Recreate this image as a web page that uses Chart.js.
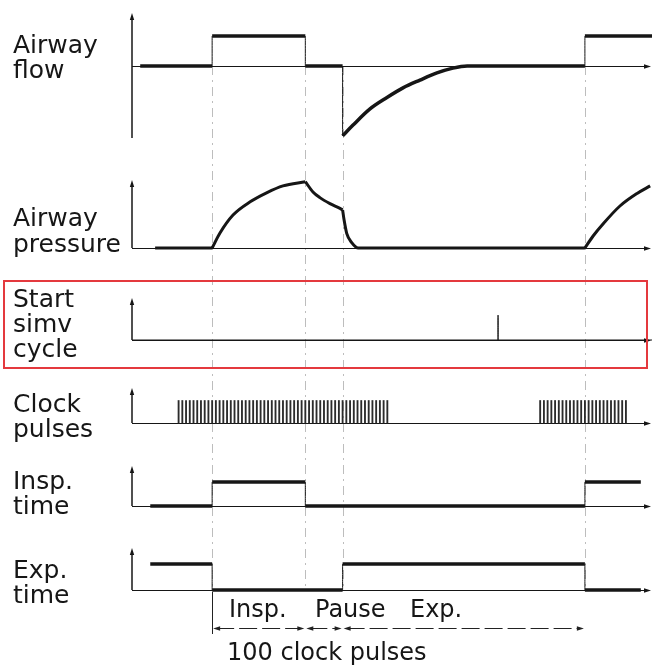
<!DOCTYPE html>
<html>
<head>
<meta charset="utf-8">
<title>Ventilator timing</title>
<script src="https://cdn.jsdelivr.net/npm/chart.js@4.4.1/dist/chart.umd.min.js"></script>
<style>
  html, body { margin: 0; padding: 0; background: #fff; }
  canvas { display: block; }
</style>
</head>
<body>
<canvas id="chart" width="652" height="671"></canvas>
<script>
// time counted in clock pulses, 0 = start of inspiration.
// a repeated time starts a new stroke: a thin vertical edge when the value jumps, a sharp corner otherwise
const phaseNames = ['Insp.', 'Pause', 'Exp.'];
const phaseBounds = [0, 25, 35, 100];

// airway flow: inspiration up, expiration down
const flowT = [-19.3, 0, 0, 25, 25, 35, 35, 37.8, 42.35, 46.9, 51.2, 55.75, 60.3, 64.6, 68.4, 100, 100, 118];
const flowV = [0, 0, 1, 1, 0, 0, -2.33, -1.97, -1.43, -1.05, -0.73, -0.47, -0.23, -0.07, 0, 0, 1, 1];

// airway pressure
const pressT = [-15.3, 0, 0, 2.1, 5.6, 10.2, 14.6, 19, 25, 25, 27.05, 28.9, 31.6, 34.3, 35, 35, 35.4, 36.1, 37.45, 39.2, 100, 100, 102.2, 104.85, 109.4, 114, 117.5];
const pressV = [0, 0, 0, 0.5, 1.1, 1.54, 1.84, 2.07, 2.21, 2.21, 1.87, 1.68, 1.48, 1.32, 1.27, 1.27, 0.93, 0.49, 0.18, 0, 0, 0, 0.4, 0.8, 1.4, 1.82, 2.07];

// start simv cycle trigger
const simvT = [-21.5, 76.7, 76.7, 76.7, 118];
const simvV = [0, 0, 0.83, 0, 0];

// clock pulse bursts (first and last pulse), one pulse per tick
const clockBursts = [[-9, 47], [88, 111]];
const clockHeight = 0.75;

// insp. time / exp. time gates
const inspT = [-16.6, 0, 0, 25, 25, 100, 100, 115];
const inspV = [0, 0, 0.8, 0.8, 0, 0, 0.8, 0.8];
const expT = [-16.6, 0, 0, 35, 35, 100, 100, 115];
const expV = [0.87, 0.87, 0, 0, 0.87, 0.87, 0, 0];

const UNIT = 30; // px per unit on every panel
const ink = '#161616';
const FONT = '"DejaVu Sans", sans-serif';

const panels = [
  { id: 'flow',  lines: ['Airway', 'flow'],         top: 6,   base: 66,  bottom: 162, arrowTop: 1.77, axisEnd: -2.4, textY: 53,  gap: 25 },
  { id: 'press', lines: ['Airway', 'pressure'],     top: 162, base: 248, bottom: 278, arrowTop: 2.27, axisEnd: 0,    textY: 226, gap: 26 },
  { id: 'simv',  lines: ['Start', 'simv', 'cycle'], top: 278, base: 340, bottom: 370, arrowTop: 1.4,  axisEnd: 0,    textY: 307, gap: 25 },
  { id: 'clock', lines: ['Clock', 'pulses'],        top: 370, base: 423, bottom: 452, arrowTop: 1.17, axisEnd: 0,    textY: 412, gap: 25 },
  { id: 'insp',  lines: ['Insp.', 'time'],          top: 452, base: 506, bottom: 536, arrowTop: 1.33, axisEnd: 0,    textY: 489, gap: 25 },
  { id: 'exp',   lines: ['Exp.', 'time'],           top: 536, base: 590, bottom: 600, arrowTop: 1.4,  axisEnd: 0,    textY: 578, gap: 25 }
];

const scales = { x: { type: 'linear', min: -21.5, max: 118, display: false, offset: false } };
panels.forEach((p, i) => {
  scales[p.id] = {
    type: 'linear', position: 'left', stack: 'panels',
    stackWeight: p.bottom - p.top, weight: panels.length - i,
    min: (p.base - p.bottom) / UNIT, max: (p.base - p.top) / UNIT,
    ticks: { display: false },
    grid: { display: false, drawTicks: false },
    border: { display: false }
  };
});

function stroke(points, axis, width) {
  return {
    type: 'line', yAxisID: axis, data: points,
    borderColor: ink, borderWidth: width, pointRadius: 0,
    cubicInterpolationMode: 'monotone', fill: false
  };
}

// split a trace into thick runs and thin vertical edges
function strokes(ts, vs, axis, width) {
  const out = [];
  let run = [{ x: ts[0], y: vs[0] }];
  for (let i = 1; i < ts.length; i++) {
    const pt = { x: ts[i], y: vs[i] };
    if (ts[i] === ts[i - 1]) {
      const prev = run[run.length - 1];
      if (run.length > 1) out.push(stroke(run, axis, width));
      if (vs[i] !== vs[i - 1]) out.push(stroke([prev, pt], axis, 1));
      run = [pt];
    } else {
      run.push(pt);
    }
  }
  if (run.length > 1) out.push(stroke(run, axis, width));
  return out;
}

const clockPulses = [];
clockBursts.forEach(([a, b]) => {
  for (let t = a; t <= b; t++) clockPulses.push({ x: t, y: clockHeight });
});

function arrowHead(ctx, x, y, dir, len, half) {
  ctx.beginPath();
  if (dir === 'up') { ctx.moveTo(x, y); ctx.lineTo(x - half, y + len); ctx.lineTo(x + half, y + len); }
  if (dir === 'right') { ctx.moveTo(x, y); ctx.lineTo(x - len, y - half); ctx.lineTo(x - len, y + half); }
  if (dir === 'left') { ctx.moveTo(x, y); ctx.lineTo(x + len, y - half); ctx.lineTo(x + len, y + half); }
  ctx.closePath();
  ctx.fill();
}

const decor = {
  id: 'decor',
  beforeDatasetsDraw(chart) {
    const { ctx, scales: sc, chartArea } = chart;
    const xs = sc.x;
    const x0 = xs.getPixelForValue(xs.min);
    ctx.save();
    // dash-dot guides at the phase boundaries
    ctx.strokeStyle = 'rgba(0,0,0,0.26)';
    ctx.lineWidth = 1;
    ctx.setLineDash([9, 5, 2, 5]);
    const gTop = sc.flow.getPixelForValue(0);
    const gBot = sc.exp.getPixelForValue(0);
    phaseBounds.forEach(t => {
      const x = Math.round(xs.getPixelForValue(t)) + 0.5;
      ctx.beginPath(); ctx.moveTo(x, gTop); ctx.lineTo(x, gBot); ctx.stroke();
    });
    ctx.setLineDash([]);

    // per panel: value axis with arrow, time baseline with arrow
    ctx.fillStyle = ink;
    ctx.strokeStyle = ink;
    panels.forEach(p => {
      const s = sc[p.id];
      const y0 = Math.round(s.getPixelForValue(0)) + 0.5;
      const yTip = s.getPixelForValue(p.arrowTop);
      const yEnd = s.getPixelForValue(p.axisEnd);
      ctx.lineWidth = 1.5;
      ctx.beginPath(); ctx.moveTo(x0, yEnd); ctx.lineTo(x0, yTip + 4); ctx.stroke();
      arrowHead(ctx, x0, yTip, 'up', 7, 2.2);
      ctx.lineWidth = 1;
      ctx.beginPath(); ctx.moveTo(x0, y0); ctx.lineTo(chartArea.right - 6, y0); ctx.stroke();
      arrowHead(ctx, chartArea.right - 1, y0, 'right', 7, 2.2);
    });
    ctx.restore();
  },
  afterDraw(chart) {
    const { ctx, scales: sc } = chart;
    const xs = sc.x;
    ctx.save();
    ctx.fillStyle = ink;
    ctx.textBaseline = 'alphabetic';
    ctx.textAlign = 'left';

    // panel names
    ctx.font = '25px ' + FONT;
    panels.forEach(p => {
      p.lines.forEach((txt, i) => ctx.fillText(txt, 13, p.textY + i * p.gap));
    });

    // highlight round the simv panel
    ctx.strokeStyle = '#e4393e';
    ctx.lineWidth = 2;
    ctx.strokeRect(4, 281, 643, 87);

    // phase dimension line
    const yDim = 628.5;
    ctx.strokeStyle = '#222';
    ctx.fillStyle = '#222';
    ctx.lineWidth = 1;
    const xStart = Math.round(xs.getPixelForValue(phaseBounds[0])) + 0.5;
    ctx.beginPath(); ctx.moveTo(xStart, 592); ctx.lineTo(xStart, 634); ctx.stroke();
    ctx.setLineDash([18, 5]);
    for (let i = 0; i < phaseNames.length; i++) {
      const xa = xs.getPixelForValue(phaseBounds[i]);
      const xb = xs.getPixelForValue(phaseBounds[i + 1]);
      ctx.beginPath(); ctx.moveTo(xa + 4, yDim); ctx.lineTo(xb - 4, yDim); ctx.stroke();
      arrowHead(ctx, xa + 1, yDim, 'left', 7, 2.2);
      arrowHead(ctx, xb - 1, yDim, 'right', 7, 2.2);
    }
    ctx.setLineDash([]);

    ctx.fillStyle = ink;
    ctx.font = '24px ' + FONT;
    const phaseTextX = [229, 315, 410];
    phaseNames.forEach((n, i) => ctx.fillText(n, phaseTextX[i], 617));
    const total = phaseBounds[phaseBounds.length - 1] - phaseBounds[0];
    ctx.fillText(total + ' clock pulses', 227, 660);
    ctx.restore();
  }
};

new Chart(document.getElementById('chart'), {
  type: 'line',
  data: {
    datasets: [
      ...strokes(flowT, flowV, 'flow', 3.5),
      ...strokes(pressT, pressV, 'press', 3),
      ...strokes(simvT, simvV, 'simv', 1.2),
      {
        type: 'bar', yAxisID: 'clock', data: clockPulses,
        backgroundColor: '#2b2b2b', borderWidth: 0, barThickness: 1.2
      },
      ...strokes(inspT, inspV, 'insp', 3.5),
      ...strokes(expT, expV, 'exp', 3.5)
    ]
  },
  options: {
    responsive: false,
    animation: false,
    events: [],
    layout: { padding: { top: 6, bottom: 71, left: 132, right: 0 } },
    scales,
    plugins: { legend: { display: false }, tooltip: { enabled: false } }
  },
  plugins: [decor]
});
</script>
</body>
</html>
